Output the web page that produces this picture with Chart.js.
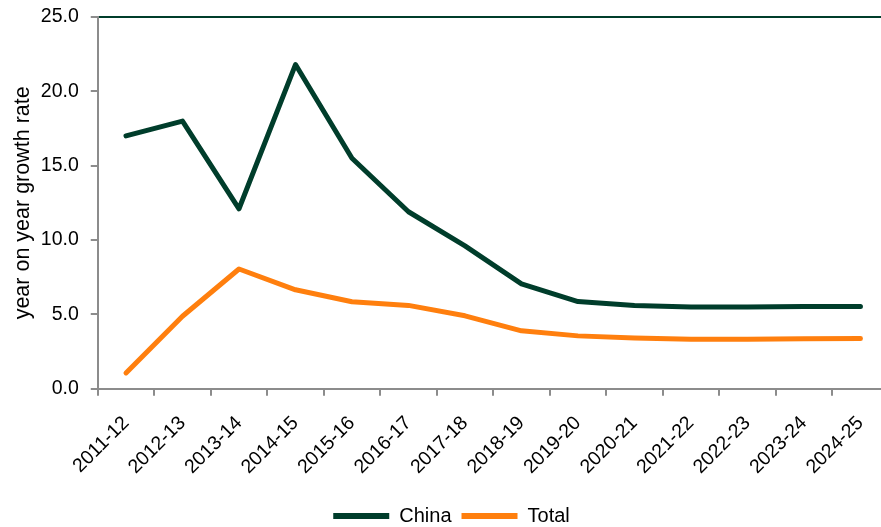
<!DOCTYPE html>
<html>
<head>
<meta charset="utf-8">
<script src="https://cdn.jsdelivr.net/npm/chart.js@4"></script>
<style>
html,body{margin:0;padding:0;background:#fff;overflow:hidden;}
#wrap{width:893px;height:527px;position:relative;}
</style>
</head>
<body>
<div id="wrap"><canvas id="c"></canvas></div>
<script>
const categories = ["2011-12","2012-13","2013-14","2014-15","2015-16","2016-17","2017-18","2018-19","2019-20","2020-21","2021-22","2022-23","2023-24","2024-25"];
const chinaValues = [17.0, 18.0, 12.1, 21.8, 15.5, 11.9, 9.6, 7.05, 5.86, 5.6, 5.5, 5.5, 5.52, 5.52];
const totalValues = [1.06, 4.87, 8.05, 6.65, 5.85, 5.6, 4.9, 3.89, 3.55, 3.4, 3.32, 3.32, 3.35, 3.37];
const yTicks = [0, 5, 10, 15, 20, 25];

const GREEN = '#003D2B';
const ORANGE = '#FF7F0E';
const AXIS = '#8C8C8C';
const FONT = "'Liberation Sans', Arial, sans-serif";

new Chart(document.getElementById('c'), {
  type: 'line',
  data: {
    labels: categories,
    datasets: [
      {label: 'China', data: chinaValues, borderColor: GREEN, backgroundColor: GREEN, borderWidth: 5, pointRadius: 0, tension: 0, borderCapStyle: 'round', borderJoinStyle: 'round'},
      {label: 'Total', data: totalValues, borderColor: ORANGE, backgroundColor: ORANGE, borderWidth: 5, pointRadius: 0, tension: 0, borderCapStyle: 'round', borderJoinStyle: 'round'}
    ]
  },
  options: {
    responsive: true,
    maintainAspectRatio: false,
    animation: false,
    layout: {padding: {top: 17, left: 10, right: 0, bottom: -9}},
    plugins: {
      tooltip: {enabled: false},
      legend: {
        position: 'bottom',
        title: {display: true, text: ' ', font: {size: 1}, padding: {top: 0, bottom: 0}},
        labels: {
          font: {family: FONT, size: 20},
          color: '#000',
          boxWidth: 56,
          boxHeight: 6,
          padding: 10,
          generateLabels: (chart) => Chart.defaults.plugins.legend.labels.generateLabels(chart).map(l => Object.assign(l, {lineWidth: 0, fillStyle: l.strokeStyle}))
        }
      }
    },
    scales: {
      x: {
        offset: true,
        grid: {display: true, drawOnChartArea: false, drawTicks: true, tickLength: 7, offset: true, color: AXIS, lineWidth: 2},
        border: {display: true, color: AXIS, width: 2},
        ticks: {font: {family: FONT, size: 19.5}, color: '#000', maxRotation: 45, minRotation: 45, padding: 16}
      },
      y: {
        min: 0, max: 25,
        afterBuildTicks: (axis) => { axis.ticks = yTicks.map(v => ({value: v})); },
        afterFit: (scale) => { scale.paddingTop = 0; },
        grid: {drawOnChartArea: true, drawTicks: true, tickLength: 7,
               color: (ctx) => (ctx.tick && ctx.tick.value === 25) ? GREEN : 'rgba(0,0,0,0)',
               tickColor: AXIS, lineWidth: 2},
        border: {display: true, color: AXIS, width: 2},
        ticks: {font: {family: FONT, size: 19.5}, color: '#000', padding: 12, callback: (v) => Number(v).toFixed(1)},
        title: {display: true, text: 'year on year growth rate', font: {family: FONT, size: 21.5}, color: '#000', padding: {top: 0, bottom: -7}}
      }
    }
  }
});
</script>
</body>
</html>
